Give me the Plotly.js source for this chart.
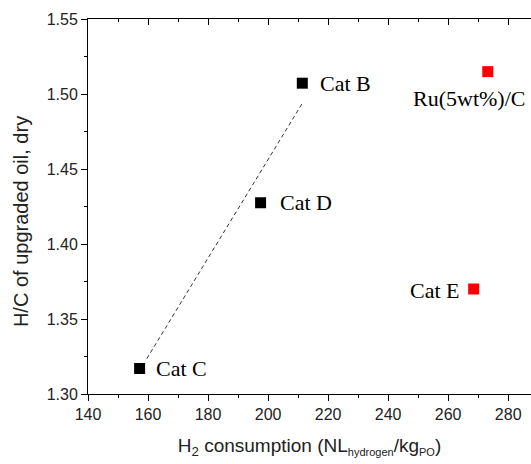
<!DOCTYPE html>
<html>
<head>
<meta charset="utf-8">
<script src="https://cdn.plot.ly/plotly-3.0.1.min.js"></script>
<style>html,body{margin:0;padding:0;background:#fff;}#chart{width:531px;height:464px;}</style>
</head>
<body>
<div id="chart"></div>
<script>
// Black catalysts
const blackNames = ["Cat C", "Cat D", "Cat B"];
const blackX = [157.2, 197.5, 211.4];
const blackY = [1.317, 1.4275, 1.5072];
// Red catalysts
const redNames = ["Ru(5wt%)/C", "Cat E"];
const redX = [273.2, 268.5];
const redY = [1.5149, 1.370];
// Dashed linear fit line endpoints
const fitX = [159.6, 211.4];
const fitY = [1.3236, 1.4938];
// Ticks
const xTicks = [140, 160, 180, 200, 220, 240, 260, 280];
const yTicks = [1.30, 1.35, 1.40, 1.45, 1.50, 1.55];

const serif = "Liberation Serif, Times New Roman, serif";
const sans = "Liberation Sans, Arial, sans-serif";

const traces = [
  {x: fitX, y: fitY, mode: "lines", line: {color: "#333", width: 1, dash: "4px,3px"}, hoverinfo: "skip", showlegend: false},
  {x: blackX, y: blackY, mode: "markers", marker: {symbol: "square", size: 11, color: "#000"}, showlegend: false},
  {x: redX, y: redY, mode: "markers", marker: {symbol: "square", size: 11, color: "#ff0000"}, showlegend: false},
  {x: [xTicks[0]], y: [yTicks[0]], xaxis: "x2", mode: "markers", marker: {opacity: 0}, hoverinfo: "skip", showlegend: false}
];

const labelFont = {family: serif, size: 22, color: "#000"};
const annotations = [
  {x: blackX[0], y: blackY[0], text: blackNames[0], showarrow: false, xanchor: "left", yanchor: "middle", xshift: 14, yshift: 0, font: labelFont},
  {x: blackX[1], y: blackY[1], text: blackNames[1], showarrow: false, xanchor: "left", yanchor: "middle", xshift: 17, yshift: 0, font: labelFont},
  {x: blackX[2], y: blackY[2], text: blackNames[2], showarrow: false, xanchor: "left", yanchor: "middle", xshift: 16, yshift: 0, font: labelFont},
  {x: redX[0], y: redY[0], text: redNames[0], showarrow: false, xanchor: "center", yanchor: "middle", xshift: -19, yshift: -27, font: labelFont},
  {x: redX[1], y: redY[1], text: redNames[1], showarrow: false, xanchor: "right", yanchor: "middle", xshift: -12, yshift: -1, font: labelFont},
  {xref: "paper", yref: "paper", x: -0.151, y: 0.4587, text: "H/C of upgraded oil, dry", showarrow: false, textangle: -90, xanchor: "center", yanchor: "middle", font: {family: sans, size: 20, color: "#222"}}
];

const layout = {
  width: 531, height: 464,
  margin: {l: 88, r: 0, t: 19, b: 70},
  paper_bgcolor: "#fff", plot_bgcolor: "#fff",
  showlegend: false,
  font: {family: sans, color: "#222"},
  xaxis: {
    range: [140, 287.6], tickvals: xTicks, ticktext: xTicks.map(String),
    showgrid: false, zeroline: false, showline: true, linecolor: "#000", linewidth: 1,
    ticks: "outside", ticklen: 6, tickcolor: "#000", tickwidth: 1,
    minor: {dtick: 10, tick0: 140, ticks: "outside", ticklen: 3, tickcolor: "#000"},
    tickfont: {family: sans, size: 16, color: "#222"},
    title: {text: "H<sub>2</sub> consumption (NL<sub><span style=\"font-size:11px\">hydrogen</span></sub>/kg<sub><span style=\"font-size:11px\">PO</span></sub>)", font: {family: sans, size: 19, color: "#222"}, standoff: 16}
  },
  xaxis2: {
    overlaying: "x", side: "top", matches: "x", range: [140, 287.6],
    tickvals: xTicks, showticklabels: false, showgrid: false, zeroline: false,
    showline: true, linecolor: "#000", linewidth: 1,
    ticks: "inside", ticklen: 6, tickcolor: "#000",
    minor: {dtick: 10, tick0: 140, ticks: "inside", ticklen: 3, tickcolor: "#000"}
  },
  yaxis: {
    range: [1.30, 1.55], tickvals: yTicks, ticktext: yTicks.map(v => v.toFixed(2)),
    showgrid: false, zeroline: false, showline: true, linecolor: "#000", linewidth: 1,
    ticks: "outside", ticklen: 6, tickcolor: "#000",
    minor: {dtick: 0.025, tick0: 1.30, ticks: "outside", ticklen: 3, tickcolor: "#000"},
    tickfont: {family: sans, size: 16, color: "#222"}
  },
  annotations: annotations
};

Plotly.newPlot("chart", traces, layout, {displayModeBar: false, staticPlot: true});
</script>
</body>
</html>
